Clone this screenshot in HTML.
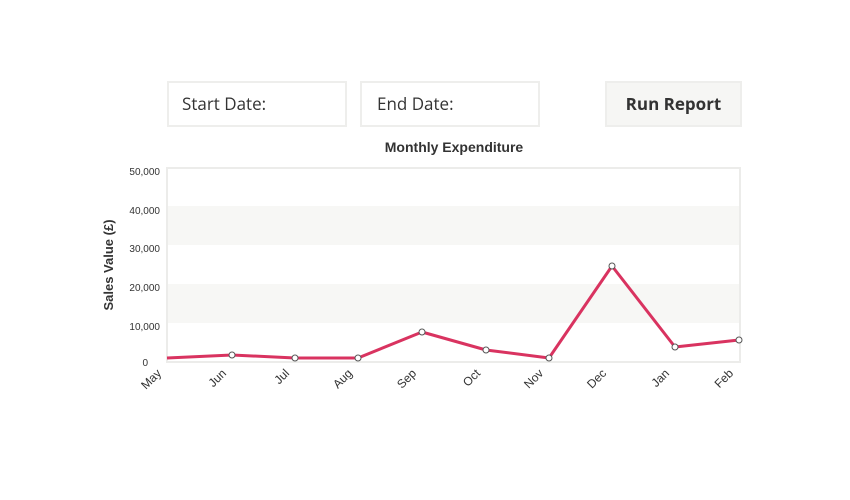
<!DOCTYPE html>
<html><head><style>
body{margin:0;width:850px;height:500px;background:#fff;font-family:"Open Sans","Liberation Sans",sans-serif;position:relative;overflow:hidden}
.box{position:absolute;top:81px;height:42px;border:2px solid #eeeeec;box-sizing:content-box;font-size:17px;color:#333;line-height:42px}
</style></head><body>
<div class="box" style="left:167px;width:176px"><span style="margin-left:13px">Start Date:</span></div>
<div class="box" style="left:360px;width:176px"><span style="margin-left:15px">End Date:</span></div>
<div class="box" style="left:605px;width:133px;background:#f6f6f4;text-align:center;font-weight:bold;color:#333">Run Report</div>
<svg width="850" height="500" style="position:absolute;left:0;top:0">
<text x="454" y="152" text-anchor="middle" font-size="14" font-weight="bold" fill="#333" font-family="Liberation Sans,sans-serif">Monthly Expenditure</text>
<rect x="167" y="206" width="573" height="39" fill="#f7f7f5"/>
<rect x="167" y="284" width="573" height="39" fill="#f7f7f5"/>
<rect x="167" y="168" width="573" height="194" fill="none" stroke="#ececea" stroke-width="2"/>
<g font-size="10" fill="#333" text-anchor="end" font-family="Liberation Sans,sans-serif">
<text x="160" y="175">50,000</text><text x="160" y="214">40,000</text><text x="160" y="252">30,000</text>
<text x="160" y="291">20,000</text><text x="160" y="330">10,000</text><text x="148" y="366">0</text></g>
<text transform="translate(113,265) rotate(-90)" text-anchor="middle" font-size="13" font-weight="bold" fill="#333" font-family="Liberation Sans,sans-serif">Sales Value (£)</text>
<polyline points="167,358 232,355 295,358 358,358 422,332 486,350 549,358 612,266 675,347 739,340" fill="none" stroke="#d93360" stroke-width="3" stroke-linejoin="round"/>
<g fill="#fff" stroke="#555" stroke-width="1">
<circle cx="232" cy="355" r="3"/><circle cx="295" cy="358" r="3"/><circle cx="358" cy="358" r="3"/><circle cx="422" cy="332" r="3"/><circle cx="486" cy="350" r="3"/><circle cx="549" cy="358" r="3"/><circle cx="612" cy="266" r="3"/><circle cx="675" cy="347" r="3"/><circle cx="739" cy="340" r="3"/></g>
<g font-size="12" fill="#333" text-anchor="end" font-family="Liberation Sans,sans-serif">
<text transform="translate(162,374) rotate(-45)">May</text>
<text transform="translate(227,374) rotate(-45)">Jun</text>
<text transform="translate(290,374) rotate(-45)">Jul</text>
<text transform="translate(353,374) rotate(-45)">Aug</text>
<text transform="translate(417,374) rotate(-45)">Sep</text>
<text transform="translate(481,374) rotate(-45)">Oct</text>
<text transform="translate(544,374) rotate(-45)">Nov</text>
<text transform="translate(607,374) rotate(-45)">Dec</text>
<text transform="translate(670,374) rotate(-45)">Jan</text>
<text transform="translate(734,374) rotate(-45)">Feb</text>
</g>
</svg>
</body></html>
